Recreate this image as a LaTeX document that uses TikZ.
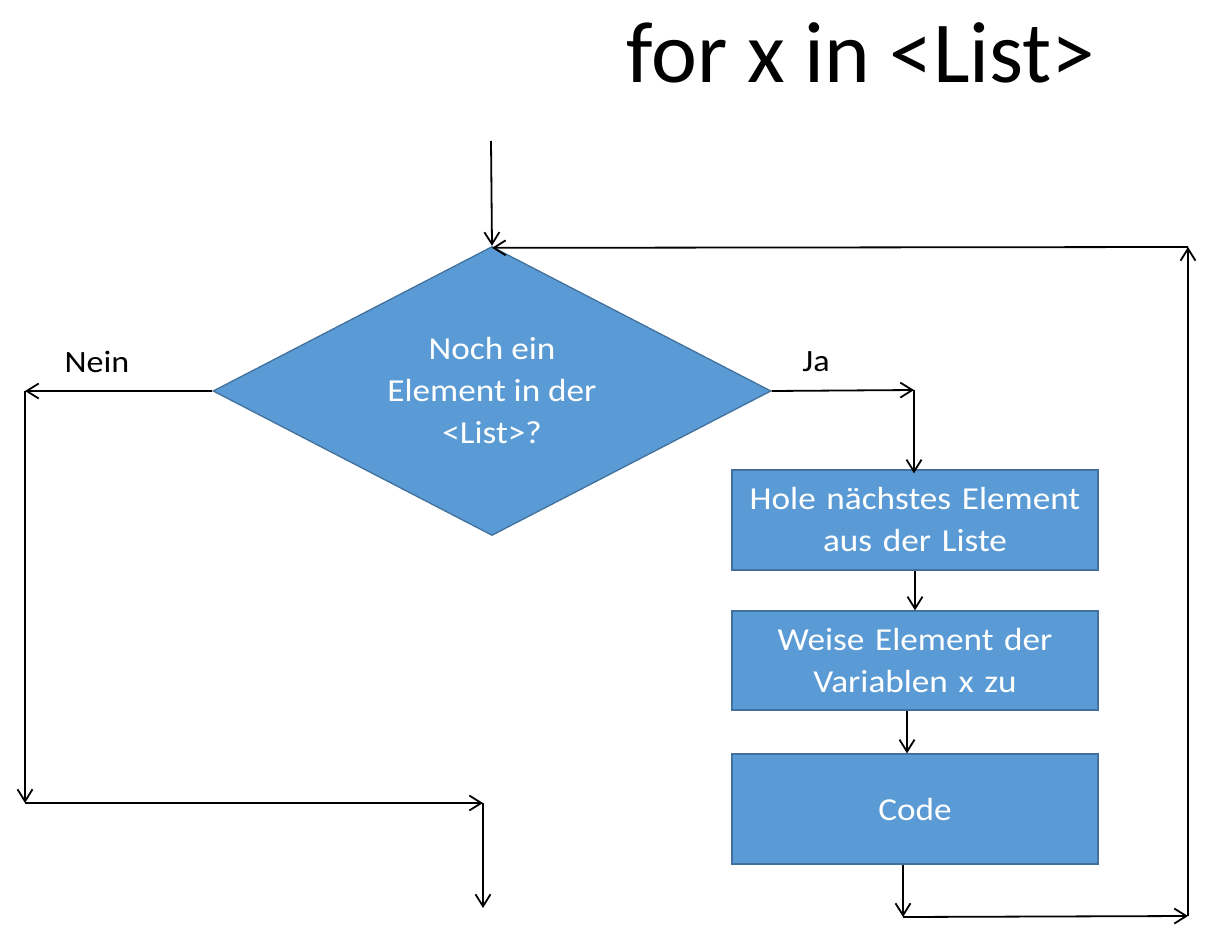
\documentclass[tikz,border=0pt]{standalone}
\usepackage{fontspec}
\setmainfont{Carlito}[FakeStretch=1.1]
\newfontfamily\titlefont{Carlito}
\usepackage{xcolor}
\usepackage{tikz}
\usetikzlibrary{shapes.geometric}
\usetikzlibrary{arrows.meta}

\definecolor{boxblue}{HTML}{5B9BD5}
\definecolor{edgeblue}{HTML}{41719C}

\begin{document}
\begin{tikzpicture}[x=1pt, y=-1pt,
        flow/.style = {draw = edgeblue, line width = 1.3pt, fill = boxblue,
            text = white, align = center, inner sep = 0pt,
            font = \fontsize{32}{42}\selectfont},
        stepbox/.style = {flow, rectangle, minimum width = 366pt, text width = 350pt},
        conn/.style = {-{Straight Barb[length = 12pt, width = 15pt, line width = 1.8pt]},
            line width = 1.8pt, black},
        lbl/.style = {font = \fontsize{31}{36}\selectfont, inner sep = 0pt}]
    \useasboundingbox (0, 0) rectangle (1215, 941);

    \node[anchor = base, font = \titlefont\fontsize{87}{90}\selectfont, inner sep = 0pt] (title) at (861, 83) {for x in <List>};

    % condition and steps
    \node[flow, diamond, aspect = 1.93, minimum width = 558pt, minimum height = 289pt] (cond) at (492, 391)
        {Noch ein\\Element in der\\<List>?};
    \node[stepbox, minimum height = 100pt] (fetch) at (915, 520) {Hole nächstes Element\\aus der Liste};
    \node[stepbox, minimum height = 99pt] (assign) at (915, 660.5) {Weise Element der\\Variablen x zu};
    \node[stepbox, minimum height = 110pt] (code) at (915, 809) {Code};

    % free ends
    \coordinate (start) at (491, 141);
    \coordinate (nein) at (25, 391);
    \coordinate (left) at (25, 803);
    \coordinate (mid) at (483, 803);
    \coordinate (exit) at (483, 908);
    \coordinate (ja) at (914, 390);
    \coordinate (back) at (903, 917);
    \coordinate (right) at (1188, 916);
    \coordinate (top) at (1188, 247);

    \draw[conn] (start) -- (cond.north);
    \draw[conn] (top) -- ([yshift = -2pt]cond.north);

    \draw[conn] (cond.west) -- (nein);
    \draw[conn] (nein) -- (left);
    \draw[conn] (left) -- (mid);
    \draw[conn] (mid) -- (exit);
    \node[lbl] (neinlabel) at (97, 362) {Nein};

    \draw[conn] (cond.east) -- (ja);
    \draw[conn] (ja) -- ([yshift = -4pt]fetch.north -| ja);
    \node[lbl] (jalabel) at (816, 362) {Ja};

    \draw[conn] (fetch.south) -- (assign.north);
    \draw[conn] ([xshift = -8pt]assign.south) -- ([xshift = -8pt]code.north);
    \draw[conn] ([xshift = -12pt]code.south) -- (back);
    \draw[conn] (back) -- (right);
    \draw[conn] (right) -- (top);
\end{tikzpicture}
\end{document}
